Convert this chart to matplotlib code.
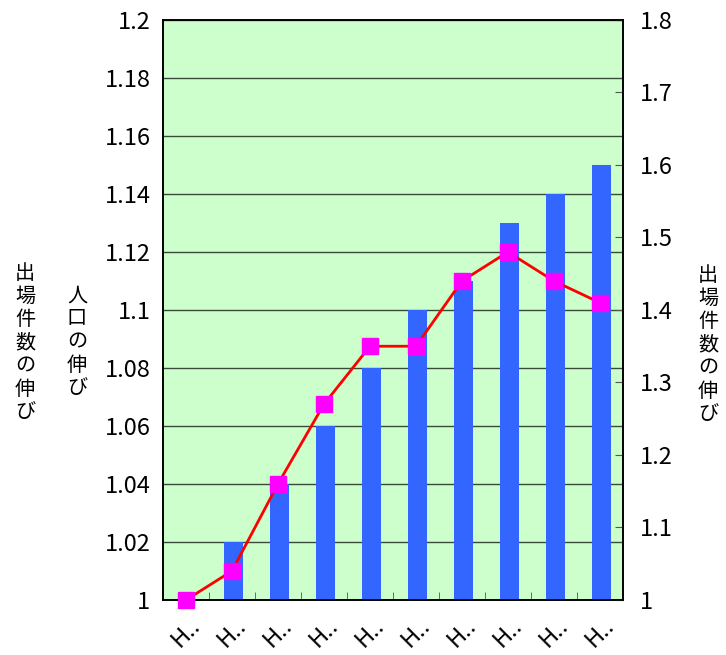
import matplotlib.pyplot as plt
import numpy as np

plt.rcParams['font.family'] = ['Noto Sans CJK JP', 'DejaVu Sans']

# データ
categories = ['H..'] * 10
population_growth = [1.00, 1.02, 1.04, 1.06, 1.08, 1.10, 1.11, 1.13, 1.14, 1.15]
dispatch_growth = [1.00, 1.04, 1.16, 1.27, 1.35, 1.35, 1.44, 1.48, 1.44, 1.41]
left_ticks = [1, 1.02, 1.04, 1.06, 1.08, 1.1, 1.12, 1.14, 1.16, 1.18, 1.2]
left_tick_labels = ['1', '1.02', '1.04', '1.06', '1.08', '1.1', '1.12', '1.14', '1.16', '1.18', '1.2']
right_ticks = [1, 1.1, 1.2, 1.3, 1.4, 1.5, 1.6, 1.7, 1.8]
right_tick_labels = ['1', '1.1', '1.2', '1.3', '1.4', '1.5', '1.6', '1.7', '1.8']

fig = plt.figure(figsize=(7.26, 6.55), dpi=100)
ax = fig.add_axes([0.2245, 0.084, 0.6335, 0.8855])
ax.set_facecolor('#ccffcc')

x = np.arange(len(categories))
ax.bar(x + 0.03, [v - 1 for v in population_growth], bottom=1, width=0.41,
       color='#3366ff', zorder=3)
ax.set_xlim(-0.5, len(categories) - 0.5)
ax.set_ylim(1, 1.2)
ax.set_yticks(left_ticks)
ax.set_yticklabels(left_tick_labels, fontsize=17)
ax.yaxis.grid(True, color='#3a4a3a', linewidth=1, zorder=1)
ax.set_axisbelow(True)
ax.tick_params(axis='y', length=0, pad=9)

ax.set_xticks(x)
ax.set_xticklabels(categories, rotation=45, fontsize=17, ha='center')
ax.tick_params(axis='x', length=0, pad=10)
ax.set_xticks(np.arange(-0.5, len(categories)), minor=True)
ax.tick_params(axis='x', which='minor', direction='in', length=6, color='#555555')

ax2 = ax.twinx()
ax2.plot(x, dispatch_growth, color='#ff0000', linewidth=2, marker='s',
         markersize=11, markerfacecolor='#ff00ff', markeredgecolor='#ff00ff',
         clip_on=False, zorder=5)
ax2.set_ylim(1, 1.8)
ax2.set_yticks(right_ticks)
ax2.set_yticklabels(right_tick_labels, fontsize=17)
ax2.tick_params(axis='y', direction='in', length=6, pad=12, color='#555555')

for a in (ax, ax2):
    for s in a.spines.values():
        s.set_color('black')
        s.set_linewidth(1.2)

# 縦書きラベル
fig.text(25 / 726, 1 - 343 / 655, '\n'.join('出場件数の伸び'), fontsize=14.5,
         ha='center', va='center', linespacing=1.13)
fig.text(77 / 726, 1 - 342 / 655, '\n'.join('人口の伸び'), fontsize=14.5,
         ha='center', va='center', linespacing=1.13)
fig.text(708 / 726, 1 - 345 / 655, '\n'.join('出場件数の伸び'), fontsize=14.5,
         ha='center', va='center', linespacing=1.13)

fig.savefig('out.png', dpi=100)
